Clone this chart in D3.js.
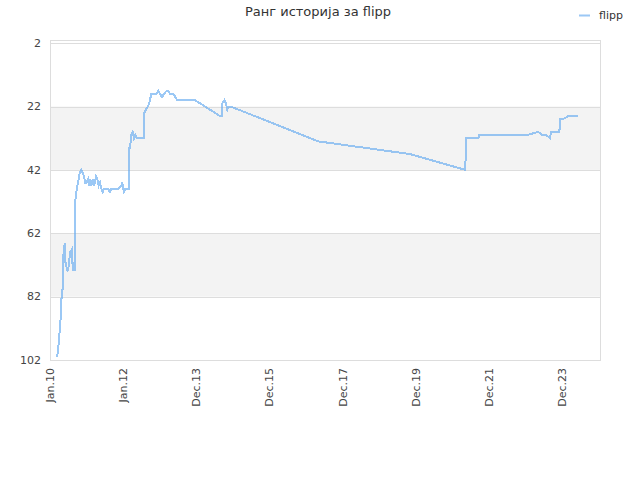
<!DOCTYPE html>
<html><head><meta charset="utf-8">
<script src="https://cdn.jsdelivr.net/npm/d3@7"></script>
<style>body{margin:0;background:#fff} text{font-family:"DejaVu Sans",sans-serif}</style>
</head><body><svg id="c" width="640" height="480"></svg>
<script>
const title = "Ранг историја за flipp";
const seriesName = "flipp";
const dates = ["2010-03-15","2010-03-19","2010-03-25","2010-04-04","2010-04-14","2010-04-17","2010-04-21","2010-05-04","2010-05-08","2010-05-14",
"2010-05-24","2010-05-31","2010-06-03","2010-06-17","2010-06-27","2010-07-09","2010-07-19","2010-08-08","2010-08-11","2010-08-21",
"2010-08-31","2010-09-04","2010-09-07","2010-09-10","2010-09-20","2010-10-07","2010-10-24","2010-11-09","2010-11-23","2010-12-06",
"2010-12-19","2011-01-02","2011-01-15","2011-01-25","2011-02-04","2011-02-17","2011-03-03","2011-03-16","2011-04-05","2011-04-18",
"2011-05-02","2011-05-15","2011-05-28","2011-06-11","2011-06-24","2011-07-16","2011-08-02","2011-08-22","2011-09-04","2011-09-24",
"2011-11-10","2011-12-13","2011-12-23","2012-01-02","2012-01-09","2012-01-22","2012-02-11","2012-02-23","2012-02-25","2012-03-09",
"2012-03-22","2012-04-05","2012-04-18","2012-05-01","2012-05-15","2012-07-26","2012-07-29","2012-08-15","2012-09-01","2012-09-17",
"2012-10-07","2012-10-27","2012-11-30","2012-12-16","2013-01-02","2013-01-22","2013-02-11","2013-03-10","2013-03-26","2013-04-12",
"2013-05-15","2013-06-04","2013-06-24","2013-12-17","2014-08-23","2014-09-09","2014-09-15","2014-10-05","2014-10-22","2014-11-04",
"2014-11-18","2014-12-08","2017-04-30","2019-10-31","2021-05-05","2021-05-09","2021-09-11","2021-09-21","2022-05-03","2022-05-19",
"2023-01-07","2023-05-03","2023-06-06","2023-07-19","2023-08-28","2023-09-04","2023-11-28","2023-12-05","2024-01-01","2024-02-26",
"2024-04-16","2024-06-05"];
const ranks = [101,99,98,94,91,88,83,82,77,69,
66,65,71,73,74,72,68,67,71,74,
71,74,53,52,49,46,43,42,43,44,
46,46,45,47,45,47,45,47,44,45,
47,46,48,49,48,48,48,49,48,48,
48,47,46,48,49,48,48,48,35,35,
31,30,32,31,32,32,24,23,22,21,
18,18,18,17,18,19,18,17,17,18,
18,19,20,20,25,25,21,20,21,23,
22,22,33,37,42,32,32,31,31,31,
31,30,31,31,32,30,30,26,26,25,
25,25];
const yTicks = [2,22,42,62,82,102];
const xTickDates = ["2010-01-01","2012-01-01","2013-12-31","2015-12-31","2017-12-30","2019-12-30","2021-12-29","2023-12-29"];
const xTickLabels = ["Jan.10","Jan.12","Dec.13","Dec.15","Dec.17","Dec.19","Dec.21","Dec.23"];

const parse = d3.timeParse("%Y-%m-%d");
const data = dates.map((d,i)=>({date:parse(d), rank:ranks[i]}));
const svg = d3.select("#c");
const L=50,R=600,T=40,B=360;
const x = d3.scaleTime().domain([parse("2010-01-01"), parse("2025-01-06")]).range([L,R]);
const y = d3.scaleLinear().domain([1,102]).range([T,B]);

const bands = [[22,42],[62,82]];
svg.selectAll("rect.band").data(bands).enter().append("rect")
  .attr("x",L).attr("width",R-L).attr("y",d=>y(d[0])).attr("height",d=>y(d[1])-y(d[0])).attr("fill","#f3f3f3");
svg.selectAll("line.grid").data(yTicks).enter().append("line")
  .attr("x1",L).attr("x2",R).attr("y1",d=>Math.round(y(d))+0.5).attr("y2",d=>Math.round(y(d))+0.5)
  .attr("stroke","#dddddd").attr("stroke-width",1);
svg.append("rect").attr("x",L+0.5).attr("y",T+0.5).attr("width",R-L).attr("height",B-T)
  .attr("fill","none").attr("stroke","#dddddd");

svg.selectAll("text.yl").data(yTicks).enter().append("text")
  .attr("x",41).attr("y",d=>y(d)).attr("dy","0.35em").attr("text-anchor","end")
  .attr("font-size",11).attr("fill","#444").text(d=>d);
svg.selectAll("text.xl").data(xTickDates).enter().append("text")
  .attr("transform",d=>`translate(${x(parse(d))},368) rotate(-90)`)
  .attr("dy","0.35em").attr("text-anchor","end")
  .attr("font-size",11).attr("fill","#444").text((d,i)=>xTickLabels[i]);

const line = d3.line().x(d=>x(d.date)).y(d=>y(d.rank));
svg.append("path").datum(data).attr("d",line).attr("fill","none")
  .attr("stroke","rgba(102,171,240,0.65)").attr("stroke-width",2)
  .attr("shape-rendering","crispEdges");

svg.append("text").attr("x",318).attr("y",16).attr("text-anchor","middle")
  .attr("font-size",13).attr("fill","#333").text(title);
svg.append("line").attr("x1",579).attr("x2",590).attr("y1",15.5).attr("y2",15.5)
  .attr("stroke","rgba(102,171,240,0.65)").attr("stroke-width",2);
svg.append("text").attr("x",599).attr("y",19).attr("font-size",11).attr("fill","#333").text(seriesName);
</script></body></html>
